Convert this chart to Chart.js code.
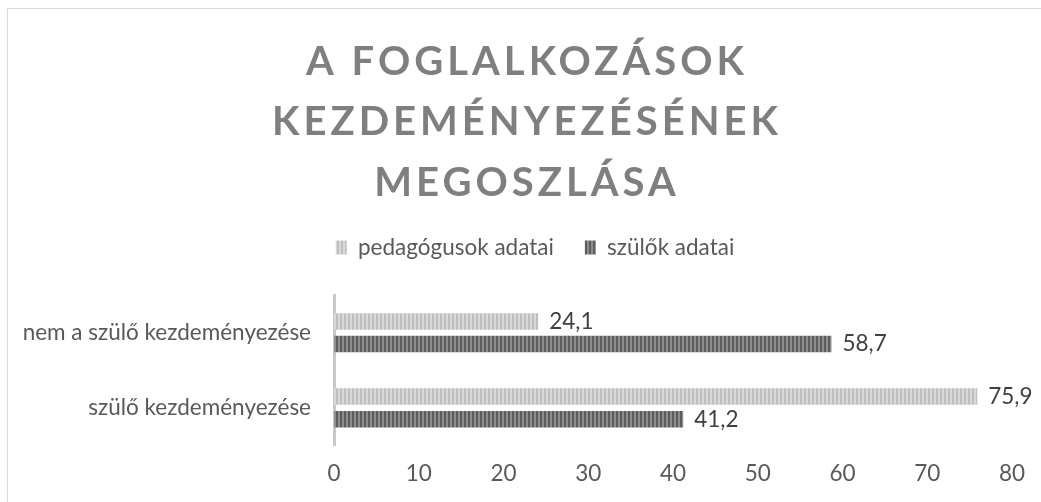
<!DOCTYPE html>
<html>
<head>
<meta charset="utf-8">
<script src="https://cdn.jsdelivr.net/npm/chart.js@4.4.1/dist/chart.umd.min.js"></script>
<style>
  html, body { margin: 0; padding: 0; background: #fff; }
  #wrap { position: relative; width: 1041px; height: 502px; overflow: hidden; }
  #frame { position: absolute; left: 7px; top: 8px; width: 1100px; height: 600px; border: 1px solid #d9d9d9; pointer-events: none; }
  canvas { position: absolute; left: 0; top: 0; }
</style>
</head>
<body>
<div id="wrap">
  <canvas id="c" width="1041" height="502"></canvas>
  <div id="frame"></div>
</div>
<script>
const categories = ["nem a szülő kezdeményezése", "szülő kezdeményezése"];
const seriesNames = ["pedagógusok adatai", "szülők adatai"];
const pedagogusok = [24.1, 75.9];
const szulok = [58.7, 41.2];
const titleLines = ["A FOGLALKOZÁSOK", "KEZDEMÉNYEZÉSÉNEK", "MEGOSZLÁSA"];
const xMin = 0, xMax = 80, xStep = 10;

function stripePattern(c1, c2) {
  const p = document.createElement('canvas');
  p.width = 4; p.height = 1;
  const g = p.getContext('2d');
  g.fillStyle = c1; g.fillRect(0, 0, 2, 1);
  g.fillStyle = c2; g.fillRect(2, 0, 2, 1);
  return g.createPattern(p, 'repeat');
}
const lightPat = stripePattern('#bfbfbf', '#d9d9d9');
const darkPat = stripePattern('#5c5c5c', '#8e8e8e');

const FONT = "Lato, 'Open Sans', sans-serif";
const FS = 22.5;

const valueLabels = {
  id: 'valueLabels',
  afterDatasetsDraw(chart) {
    const ctx = chart.ctx;
    ctx.save();
    ctx.font = FS + "px " + FONT;
    ctx.fillStyle = '#404040';
    ctx.textAlign = 'left';
    ctx.textBaseline = 'middle';
    chart.data.datasets.forEach((ds, i) => {
      chart.getDatasetMeta(i).data.forEach((bar, j) => {
        const v = ds.data[j];
        ctx.fillText(v.toFixed(1).replace('.', ','), bar.x + 11, bar.y);
      });
    });
    ctx.restore();
  }
};

// shift the centred title/legend blocks (the plot area leaves a wide left axis)
const blockShift = {
  id: 'blockShift',
  afterInit(chart) {
    const wrap = (obj, dx, spacing) => {
      if (!obj) return;
      const orig = obj.draw.bind(obj);
      obj.draw = function () {
        const ctx = chart.ctx;
        ctx.save();
        if (spacing) ctx.letterSpacing = spacing;
        ctx.translate(dx, 0);
        orig();
        ctx.restore();
      };
    };
    wrap(chart.titleBlock, 21, '4px');
    wrap(chart.legend, 29, null);
  }
};

new Chart(document.getElementById('c'), {
  type: 'bar',
  data: {
    labels: categories,
    datasets: [
      { label: seriesNames[0], data: pedagogusok, backgroundColor: lightPat, borderWidth: 0, xAxisID: 'x' },
      { label: seriesNames[1], data: szulok, backgroundColor: darkPat, borderWidth: 0, xAxisID: 'x' }
    ]
  },
  options: {
    indexAxis: 'y',
    responsive: false,
    animation: false,
    devicePixelRatio: 1,
    categoryPercentage: 0.603,
    barPercentage: 0.727,
    layout: { padding: { left: 0, right: 29, top: 0, bottom: 11.5 } },
    plugins: {
      title: {
        display: true,
        text: titleLines,
        color: '#7f7f7f',
        font: { family: FONT, size: 40, weight: 'bold', lineHeight: 1.5125 },
        padding: { top: 31.7, bottom: -8 }
      },
      legend: {
        display: true,
        position: 'top',
        labels: {
          color: '#595959',
          font: { family: FONT, size: FS },
          boxWidth: 11,
          boxHeight: 14,
          padding: 31
        }
      },
      tooltip: { enabled: false }
    },
    scales: {
      x: {
        min: xMin, max: xMax,
        ticks: { stepSize: xStep, color: '#595959', font: { family: FONT, size: FS }, padding: 6.5 },
        grid: { display: false },
        border: { display: false },
        afterFit(s) { s.height = 45; }
      },
      xTop: {
        type: 'linear',
        position: 'top',
        min: 0, max: 1,
        ticks: { display: false },
        grid: { display: false },
        border: { display: false },
        afterFit(s) { s.height = 26.5; }
      },
      y: {
        ticks: { color: '#595959', font: { family: FONT, size: FS }, padding: 15 },
        grid: { display: false },
        border: { display: true, color: '#c8c8c8', width: 3 },
        afterFit(s) { s.width = 334; }
      }
    }
  },
  plugins: [valueLabels, blockShift]
});
</script>
</body>
</html>
